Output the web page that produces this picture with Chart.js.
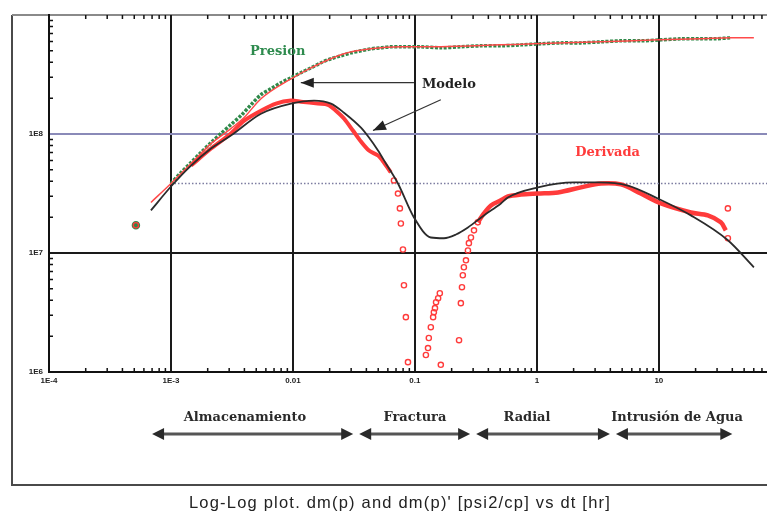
<!DOCTYPE html>
<html>
<head>
<meta charset="utf-8">
<script src="https://cdn.jsdelivr.net/npm/chart.js@4"></script>
<style>
html,body{margin:0;padding:0;background:#fff;}
canvas{display:block;}
</style>
</head>
<body>
<canvas id="c" width="767" height="515"></canvas>
<script>
// ---- axis ticks ----
const xTickValues = [1e-4, 1e-3, 1e-2, 1e-1, 1, 10];
const xTickLabels = ["1E-4", "1E-3", "0.01", "0.1", "1", "10"];
const yTickValues = [1e6, 1e7, 1e8];
const yTickLabels = ["1E6", "1E7", "1E8"];

// ---- Presion (measured, green) ----
const presionT = [5.16e-4,1.0e-3,1.21e-3,1.46e-3,1.76e-3,2.13e-3,2.57e-3,3.10e-3,3.75e-3,4.53e-3,5.47e-3,6.61e-3,7.98e-3,9.64e-3,0.0116,0.0141,0.0170,0.0205,0.0247,0.0299,0.0361,0.0436,0.0526,0.0635,0.0767,0.112,0.163,0.238,0.348,0.507,0.740,1.08,1.57,2.30,3.35,4.89,7.11,10.4,15.1,22.1,29.3,38.9];
const presionV = [1.71e7,3.84e7,4.75e7,5.76e7,6.98e7,8.47e7,1.01e8,1.20e8,1.43e8,1.76e8,2.14e8,2.40e8,2.70e8,2.97e8,3.27e8,3.60e8,3.97e8,4.29e8,4.54e8,4.81e8,5.00e8,5.20e8,5.30e8,5.41e8,5.41e8,5.41e8,5.30e8,5.41e8,5.51e8,5.51e8,5.61e8,5.73e8,5.83e8,5.83e8,5.95e8,6.07e8,6.07e8,6.18e8,6.31e8,6.31e8,6.31e8,6.43e8];

// ---- Modelo presion (red line) ----
const modelPT = [6.85e-4,1.0e-3,1.46e-3,2.13e-3,3.10e-3,3.96e-3,5.47e-3,9.64e-3,0.0141,0.0262,0.0436,0.0767,0.163,0.507,0.944,3.35,9.8,22.1,38.9,60.1];
const modelPV = [2.66e7,3.84e7,5.65e7,8.31e7,1.11e8,1.37e8,1.98e8,2.91e8,3.60e8,4.72e8,5.20e8,5.41e8,5.41e8,5.61e8,5.73e8,5.95e8,6.18e8,6.31e8,6.43e8,6.43e8];

// ---- Derivada (measured, red) : dense stretches ----
const derivDenseAT = [1.46e-3,2.13e-3,3.10e-3,3.96e-3,5.47e-3,7.26e-3,9.64e-3,0.0116,0.0160,0.0194,0.0225,0.0262,0.0310,0.0361,0.0420,0.0498,0.0557,0.0635];
const derivDenseAV = [5.43e7,7.55e7,1.01e8,1.29e8,1.57e8,1.80e8,1.91e8,1.87e8,1.80e8,1.76e8,1.57e8,1.35e8,1.07e8,8.63e7,7.26e7,6.59e7,5.76e7,4.75e7];
const derivDenseBT = [0.328,0.368,0.420,0.507,0.578,0.740,1.02,1.49,2.30,3.35,4.89,7.11,10.4,18.3,25.2,32.2,35.4];
const derivDenseBV = [1.81e7,2.15e7,2.51e7,2.77e7,2.99e7,3.10e7,3.16e7,3.23e7,3.56e7,3.84e7,3.77e7,3.16e7,2.61e7,2.19e7,2.07e7,1.81e7,1.55e7];
// ---- Derivada : scattered points ----
const derivPtsT = [5.16e-4,0.0673,0.0726,0.0753,0.0767,0.0798,0.0813,0.0843,0.0877,0.123,0.128,0.130,0.135,0.141,0.143,0.146,0.149,0.155,0.160,0.163,0.230,0.238,0.243,0.247,0.252,0.262,0.272,0.277,0.288,0.305,0.328,36.8,36.8];
const derivPtsV = [1.71e7,4.07e7,3.16e7,2.37e7,1.77e7,1.07e7,5.36e6,2.89e6,1.21e6,1.39e6,1.59e6,1.93e6,2.38e6,2.89e6,3.18e6,3.44e6,3.86e6,4.17e6,4.59e6,1.15e6,1.85e6,3.79e6,5.16e6,6.50e6,7.59e6,8.68e6,1.05e7,1.21e7,1.35e7,1.55e7,1.81e7,2.37e7,1.33e7];

// ---- Modelo derivada (black line) ----
const modelDT = [6.85e-4,1.0e-3,1.46e-3,2.13e-3,3.10e-3,5.47e-3,9.64e-3,0.0149,0.0205,0.0262,0.0361,0.0420,0.0498,0.0578,0.0726,0.0982,0.135,0.173,0.217,0.272,0.368,0.507,0.578,1.02,2.01,3.16,5.57,9.8,18.3,36.8,60.1];
const modelDV = [2.28e7,3.62e7,5.43e7,7.55e7,9.70e7,1.48e8,1.80e8,1.91e8,1.80e8,1.51e8,1.13e8,9.33e7,7.26e7,5.65e7,3.84e7,1.99e7,1.35e7,1.33e7,1.43e7,1.64e7,2.07e7,2.61e7,2.93e7,3.56e7,3.92e7,3.92e7,3.69e7,2.87e7,2.07e7,1.28e7,7.59e6];

// ---- annotations ----
const refLineValue = 3.84e7;          // dotted horizontal reference
const refLineStart = 1e-3;
const textLabels = ["Presion", "Modelo", "Derivada"];
const textT = [7.5e-3, 0.19, 3.8];
const textV = [4.9e8, 2.6e8, 7.0e7];
const textColors = ["#2e8b4e", "#222222", "#ff3b3b"];
const modeloArrowFromT = [0.0982, 0.163];
const modeloArrowFromV = [2.7e8, 1.94e8];
const modeloArrowToT = [0.0116, 0.0453];
const modeloArrowToV = [2.7e8, 1.07e8];
const phaseBounds = [7e-4, 0.033, 0.30, 4.2, 40];
const phaseLabels = ["Almacenamiento", "Fractura", "Radial", "Intrusión de Agua"];
const phaseLabelT = [4.04e-3, 0.1, 0.83, 14.1];
const titleText = "Log-Log plot. dm(p) and dm(p)' [psi2/cp] vs dt [hr]";

const zip = (t, v) => t.map((x, i) => ({x: x, y: v[i]}));

function arrowHead(ctx, x1, y1, x2, y2, len, half) {
  const a = Math.atan2(y2 - y1, x2 - x1);
  ctx.beginPath();
  ctx.moveTo(x2, y2);
  ctx.lineTo(x2 - len * Math.cos(a) + half * Math.sin(a), y2 - len * Math.sin(a) - half * Math.cos(a));
  ctx.lineTo(x2 - len * Math.cos(a) - half * Math.sin(a), y2 - len * Math.sin(a) + half * Math.cos(a));
  ctx.closePath();
  ctx.fill();
}

const decorPlugin = {
  id: 'decor',
  beforeDraw(chart) {
    const ctx = chart.ctx;
    const W = chart.width;
    ctx.save();
    ctx.fillStyle = '#fff';
    ctx.fillRect(0, 0, W, chart.height);
    ctx.strokeStyle = '#4a4a4a';
    ctx.lineWidth = 2;
    ctx.beginPath();
    ctx.moveTo(W, 485); ctx.lineTo(12, 485); ctx.lineTo(12, 15);
    ctx.stroke();
    ctx.strokeStyle = '#8a8a8a';
    ctx.beginPath();
    ctx.moveTo(12, 15); ctx.lineTo(W, 15);
    ctx.stroke();
    ctx.restore();
  },
  beforeDatasetsDraw(chart) {
    const ctx = chart.ctx, xs = chart.scales.x, ys = chart.scales.y, ca = chart.chartArea;
    ctx.save();
    ctx.strokeStyle = '#7c7ca0';
    ctx.lineWidth = 1.5;
    ctx.setLineDash([1.5, 2]);
    const yr = ys.getPixelForValue(refLineValue);
    ctx.beginPath();
    ctx.moveTo(xs.getPixelForValue(refLineStart), yr);
    ctx.lineTo(ca.right, yr);
    ctx.stroke();
    ctx.setLineDash([]);
    ctx.strokeStyle = '#111';
    ctx.lineWidth = 1.5;
    ctx.beginPath();
    for (let d = -4; d <= 2; d++) {
      for (let m = 2; m <= 9; m++) {
        const v = m * Math.pow(10, d);
        const px = xs.getPixelForValue(v);
        if (px < ca.left || px > ca.right) continue;
        ctx.moveTo(px, ca.bottom); ctx.lineTo(px, ca.bottom - 4);
        ctx.moveTo(px, ca.top); ctx.lineTo(px, ca.top + 4);
      }
    }
    for (let d = 6; d <= 8; d++) {
      for (let m = 2; m <= 9; m++) {
        const py = ys.getPixelForValue(m * Math.pow(10, d));
        ctx.moveTo(ca.left, py); ctx.lineTo(ca.left + 4, py);
      }
    }
    ctx.stroke();
    ctx.restore();
  },
  afterDraw(chart) {
    const ctx = chart.ctx, xs = chart.scales.x, ys = chart.scales.y;
    ctx.save();
    ctx.font = 'bold 13px "DejaVu Serif"';
    ctx.textAlign = 'center';
    ctx.textBaseline = 'middle';
    textLabels.forEach((s, i) => {
      ctx.fillStyle = textColors[i];
      ctx.fillText(s, xs.getPixelForValue(textT[i]), ys.getPixelForValue(textV[i]));
    });
    ctx.strokeStyle = '#333';
    ctx.fillStyle = '#222';
    ctx.lineWidth = 1.2;
    modeloArrowFromT.forEach((t, i) => {
      const x1 = xs.getPixelForValue(t), y1 = ys.getPixelForValue(modeloArrowFromV[i]);
      const x2 = xs.getPixelForValue(modeloArrowToT[i]), y2 = ys.getPixelForValue(modeloArrowToV[i]);
      ctx.beginPath(); ctx.moveTo(x1, y1); ctx.lineTo(x2, y2); ctx.stroke();
      arrowHead(ctx, x1, y1, x2, y2, 13, 5);
    });
    const ya = 434;
    for (let i = 0; i < phaseLabels.length; i++) {
      let xa = xs.getPixelForValue(phaseBounds[i]);
      let xb = xs.getPixelForValue(phaseBounds[i + 1]);
      if (i > 0) xa += 3;
      if (i < phaseLabels.length - 1) xb -= 3;
      ctx.strokeStyle = '#555';
      ctx.lineWidth = 3;
      ctx.beginPath(); ctx.moveTo(xa + 6, ya); ctx.lineTo(xb - 6, ya); ctx.stroke();
      ctx.fillStyle = '#2a2a2a';
      arrowHead(ctx, xb - 10, ya, xb, ya, 12, 6);
      arrowHead(ctx, xa + 10, ya, xa, ya, 12, 6);
      ctx.fillStyle = '#2a2a2a';
      ctx.font = 'bold 13px "DejaVu Serif"';
      ctx.fillText(phaseLabels[i], xs.getPixelForValue(phaseLabelT[i]), 418);
    }
    ctx.font = '16.5px "Liberation Sans"';
    ctx.letterSpacing = '1.2px';
    ctx.fillStyle = '#222';
    ctx.fillText(titleText, 400, 503);
    ctx.restore();
  }
};

new Chart(document.getElementById('c'), {
  type: 'scatter',
  data: {
    datasets: [
      { label: 'Modelo derivada', data: zip(modelDT, modelDV), showLine: true, borderColor: '#2b2b2b', borderWidth: 1.8, pointRadius: 0, cubicInterpolationMode: 'monotone', order: 1 },
      { label: 'Derivada pts', data: zip(derivPtsT, derivPtsV), showLine: false, pointStyle: 'circle', pointRadius: 2.6, borderColor: '#ff3b3b', backgroundColor: 'rgba(255,255,255,0)', pointBorderWidth: 1.4, order: 2 },
      { label: 'Derivada A', data: zip(derivDenseAT, derivDenseAV), showLine: true, borderColor: '#ff3b3b', borderWidth: 4, pointRadius: 0, tension: 0.3, order: 3 },
      { label: 'Derivada B', data: zip(derivDenseBT, derivDenseBV), showLine: true, borderColor: '#ff3b3b', borderWidth: 4.5, pointRadius: 0, tension: 0.3, order: 3 },
      { label: 'Modelo presion', data: zip(modelPT, modelPV), showLine: true, borderColor: '#ff4a4a', borderWidth: 1.5, pointRadius: 0, cubicInterpolationMode: 'monotone', order: 4 },
      { label: 'Presion', data: zip(presionT, presionV), showLine: true, borderColor: '#2f8a4a', borderWidth: 3.5, borderDash: [3, 1.5], tension: 0.3, order: 5,
        pointRadius: presionT.map((t, i) => (i === 0 ? 2.5 : 0)), pointBackgroundColor: '#2f8a4a', pointBorderColor: '#2f8a4a',
        segment: { borderColor: (c) => (c.p0DataIndex === 0 ? 'rgba(0,0,0,0)' : undefined) } }
    ]
  },
  options: {
    responsive: false,
    animation: false,
    devicePixelRatio: 1,
    layout: { autoPadding: false, padding: { left: 0, top: 15, right: 0, bottom: 0 } },
    plugins: { legend: { display: false }, tooltip: { enabled: false }, title: { display: false } },
    scales: {
      x: {
        type: 'logarithmic', min: 1e-4, max: 77,
        afterFit: s => { s.height = 143; s.paddingRight = 0; s.paddingLeft = 0; },
        afterBuildTicks: s => { s.ticks = xTickValues.map(v => ({ value: v })); },
        ticks: {
          autoSkip: false, maxRotation: 0, padding: 4, color: '#222',
          font: { family: 'Liberation Sans', size: 8, weight: 'bold' },
          callback: (v) => { const i = xTickValues.findIndex(t => Math.abs(t - v) / t < 1e-6); return i >= 0 ? xTickLabels[i] : ''; }
        },
        grid: { drawTicks: false, color: '#1a1a1a', lineWidth: 2 },
        border: { display: true, color: '#111', width: 2 }
      },
      y: {
        type: 'logarithmic', min: 1e6, max: 1e9,
        afterFit: s => { s.width = 49; s.paddingTop = 0; s.paddingBottom = 0; },
        afterBuildTicks: s => { s.ticks = yTickValues.map(v => ({ value: v })); },
        ticks: {
          autoSkip: false, padding: 6, color: '#222',
          font: { family: 'Liberation Sans', size: 8, weight: 'bold' },
          callback: (v) => { const i = yTickValues.findIndex(t => Math.abs(t - v) / t < 1e-6); return i >= 0 ? yTickLabels[i] : ''; }
        },
        grid: {
          drawTicks: false,
          color: (c) => (c.tick && Math.abs(c.tick.value - 1e8) < 1 ? '#8a8ab8' : '#1a1a1a'),
          lineWidth: (c) => (c.tick && c.tick.value === 1e6 ? 0 : 2)
        },
        border: { display: true, color: '#111', width: 2 }
      }
    }
  },
  plugins: [decorPlugin]
});
</script>
</body>
</html>
